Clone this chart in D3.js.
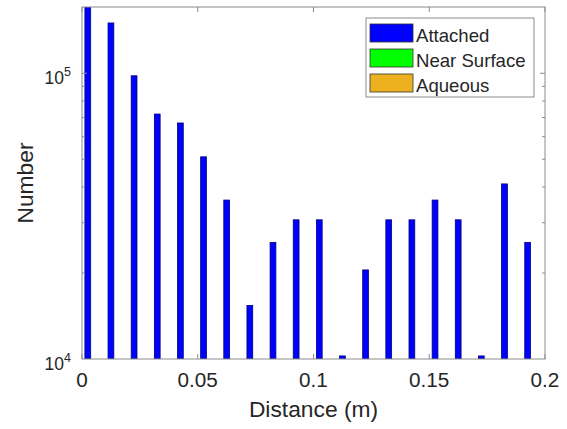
<!DOCTYPE html>
<html>
<head>
<meta charset="utf-8">
<script src="https://cdn.jsdelivr.net/npm/d3@7/dist/d3.min.js"></script>
<style>
  html, body { margin: 0; padding: 0; background: #fff; }
  svg { display: block; font-family: "Liberation Sans", Arial, Helvetica, sans-serif; }
</style>
</head>
<body>
<svg id="chart" width="567" height="429"></svg>
<script>
// ---- data ----
const binCenters = [0.005, 0.015, 0.025, 0.035, 0.045, 0.055, 0.065, 0.075, 0.085, 0.095,
                    0.105, 0.115, 0.125, 0.135, 0.145, 0.155, 0.165, 0.175, 0.185, 0.195];
const attached    = [200000, 150000, 98000, 72000, 67000, 51000, 36000, 15400, 25600, 30700,
                     30700, 10250, 20500, 30700, 30700, 36000, 30700, 10250, 41000, 25600];
const nearSurface = [0, 0, 0, 0, 0, 0, 0, 0, 0, 0, 0, 0, 0, 0, 0, 0, 0, 0, 0, 0];
const aqueous     = [0, 0, 0, 0, 0, 0, 0, 0, 0, 0, 0, 0, 0, 0, 0, 0, 0, 0, 0, 0];
const seriesNames = ["Attached", "Near Surface", "Aqueous"];
const seriesColors = ["#0000FF", "#00FF00", "#EDB120"];
const xTicks = [0, 0.05, 0.1, 0.15, 0.2];
const xTickLabels = ["0", "0.05", "0.1", "0.15", "0.2"];
const yTicks = [1e4, 1e5];
const yTickExponents = ["4", "5"];
const xLabel = "Distance (m)";
const yLabel = "Number";

// ---- layout ----
const svg = d3.select("#chart");
const L = 82, R = 545, T = 7, B = 359;
const x = d3.scaleLinear().domain([0, 0.2]).range([L, R]);
const y = d3.scaleLog().domain([1e4, 1.706e5]).range([B, T]);
const axisColor = "#8c8c8c";
const textColor = "#262626";

const groupW = x(0.0075) - x(0);
const xSub = d3.scaleBand().domain(seriesNames).range([-groupW / 2, groupW / 2]);

svg.append("defs").append("clipPath").attr("id", "plotclip")
  .append("rect").attr("x", L).attr("y", T).attr("width", R - L).attr("height", B - T);

const allSeries = [attached, nearSurface, aqueous];
const gBars = svg.append("g").attr("clip-path", "url(#plotclip)");
allSeries.forEach((vals, si) => {
  const recs = binCenters.map((c, i) => ({ c, v: vals[i] })).filter(d => d.v > 0);
  gBars.selectAll(null).data(recs).enter().append("rect")
    .attr("x", d => x(d.c) + xSub(seriesNames[si]))
    .attr("width", xSub.bandwidth())
    .attr("y", d => y(d.v))
    .attr("height", d => B - y(d.v))
    .attr("fill", seriesColors[si])
    .attr("stroke", "#00007a")
    .attr("stroke-width", 0.8);
});

// ---- axes box ----
svg.append("rect").attr("x", L).attr("y", T).attr("width", R - L).attr("height", B - T)
  .attr("fill", "none").attr("stroke", axisColor).attr("stroke-width", 1);

// x ticks (inward, bottom and top)
const gx = svg.append("g");
xTicks.forEach(t => {
  gx.append("line").attr("x1", x(t)).attr("x2", x(t)).attr("y1", B).attr("y2", B - 5)
    .attr("stroke", axisColor);
  gx.append("line").attr("x1", x(t)).attr("x2", x(t)).attr("y1", T).attr("y2", T + 5)
    .attr("stroke", axisColor);
});
gx.selectAll(null).data(xTicks).enter().append("text")
  .attr("x", d => x(d)).attr("y", 387)
  .attr("text-anchor", "middle").attr("font-size", 20.7).attr("fill", textColor)
  .text((d, i) => xTickLabels[i]);

// y ticks: major and minor (log)
const minor = y.ticks().filter(v => v > y.domain()[0] && v < y.domain()[1]);
const gy = svg.append("g");
minor.forEach(v => {
  const isMajor = yTicks.includes(v);
  const len = isMajor ? 5 : 3;
  gy.append("line").attr("x1", L).attr("x2", L + len).attr("y1", y(v)).attr("y2", y(v)).attr("stroke", axisColor);
  gy.append("line").attr("x1", R).attr("x2", R - len).attr("y1", y(v)).attr("y2", y(v)).attr("stroke", axisColor);
});
yTicks.forEach((t, i) => {
  const tx = gy.append("text").attr("x", 71).attr("y", y(t) + 11)
    .attr("text-anchor", "end").attr("font-size", 17.5).attr("fill", textColor);
  tx.append("tspan").text("10");
  tx.append("tspan").attr("dy", -8.5).attr("font-size", 12.5).text(yTickExponents[i]);
});

// axis labels
svg.append("text").attr("x", (L + R) / 2).attr("y", 417)
  .attr("text-anchor", "middle").attr("font-size", 22.8).attr("fill", textColor).text(xLabel);
svg.append("text").attr("transform", `translate(33,${(T + B) / 2}) rotate(-90)`)
  .attr("text-anchor", "middle").attr("font-size", 22.8).attr("fill", textColor).text(yLabel);

// ---- legend ----
const lg = svg.append("g");
lg.append("rect").attr("x", 366).attr("y", 18).attr("width", 168).attr("height", 79)
  .attr("fill", "#fff").attr("stroke", axisColor).attr("stroke-width", 1);
seriesNames.forEach((name, i) => {
  const ry = 24 + i * 25;
  lg.append("rect").attr("x", 370).attr("y", ry).attr("width", 43).attr("height", 18)
    .attr("fill", seriesColors[i]).attr("stroke", "#333").attr("stroke-width", 0.8);
  lg.append("text").attr("x", 416).attr("y", ry + 17.5)
    .attr("font-size", 18.6).attr("fill", textColor).text(name);
});
</script>
</body>
</html>
